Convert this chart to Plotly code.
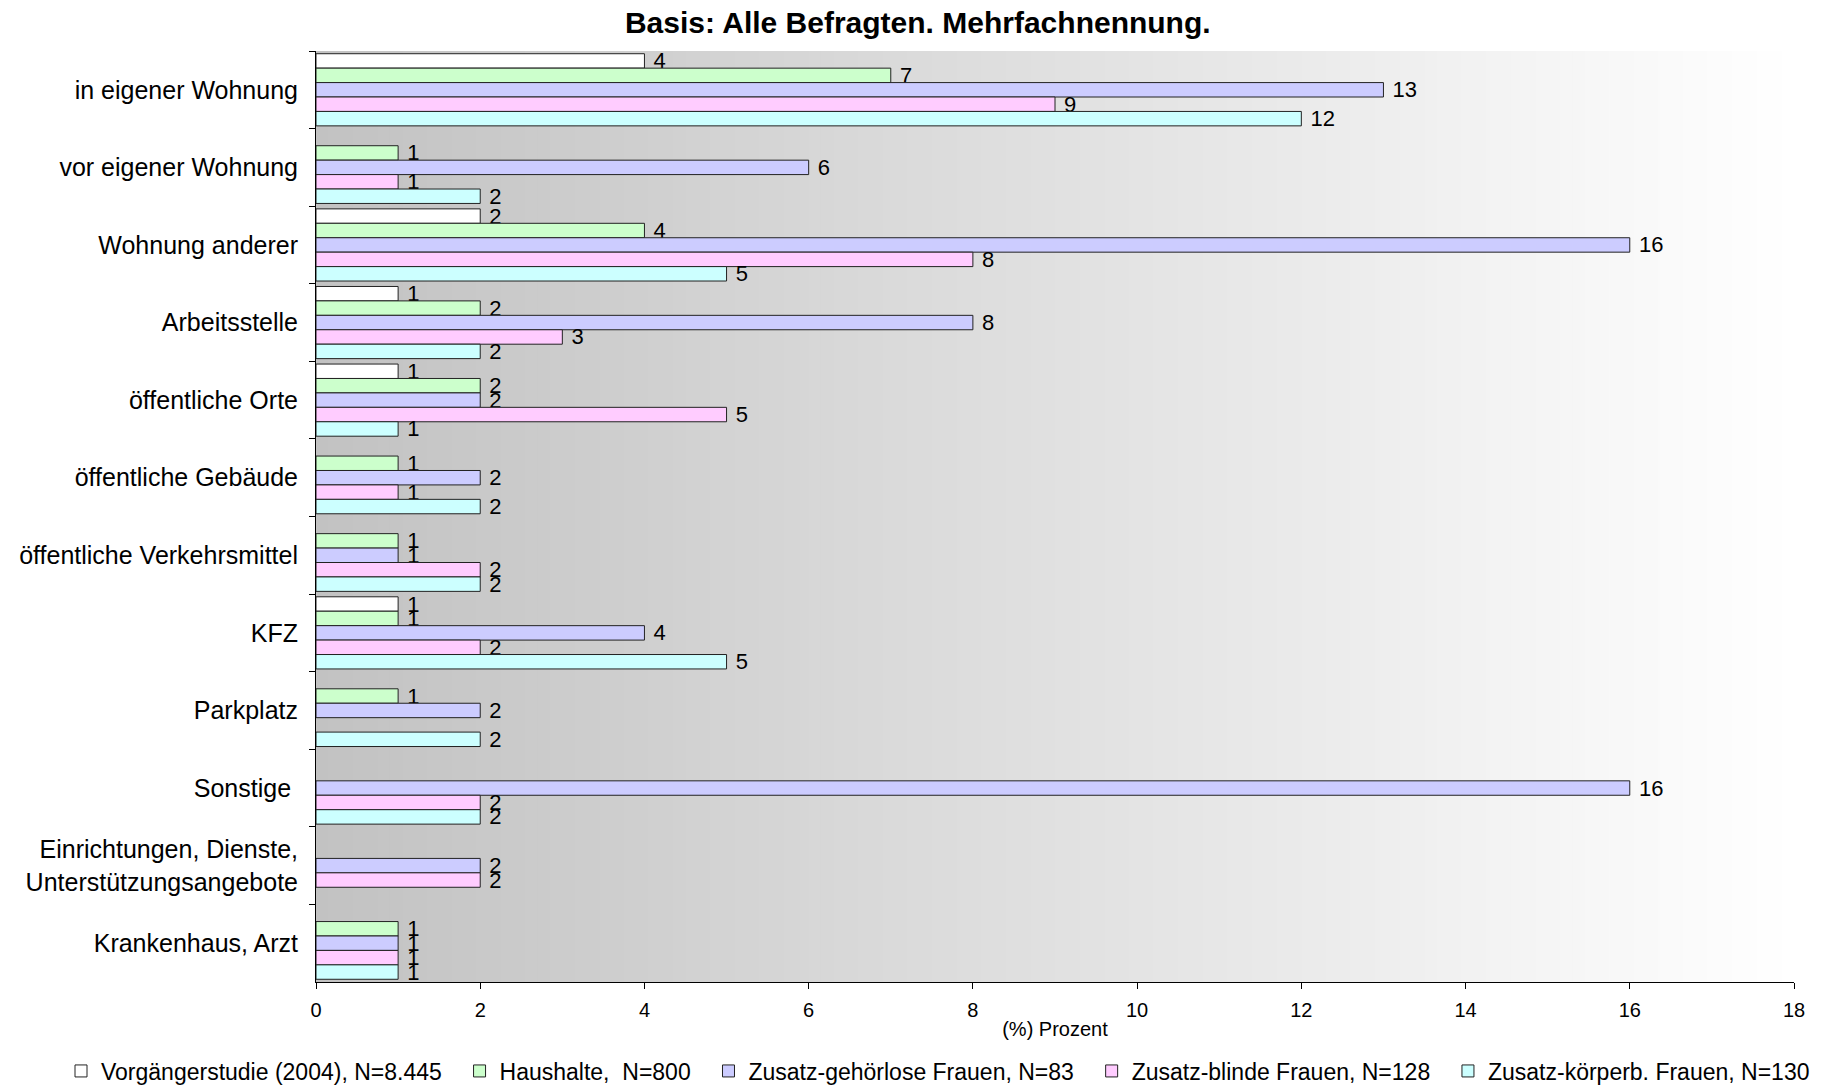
import plotly.graph_objects as go

# Orte der Vorfälle (Prozent), Mehrfachnennung
categories = [
    "in eigener Wohnung",
    "vor eigener Wohnung",
    "Wohnung anderer",
    "Arbeitsstelle",
    "öffentliche Orte",
    "öffentliche Gebäude",
    "öffentliche Verkehrsmittel",
    "KFZ",
    "Parkplatz",
    "Sonstige\u00a0",
    "Einrichtungen, Dienste,<br>Unterstützungsangebote",
    "Krankenhaus, Arzt",
]

vorgaenger = [4, None, 2, 1, 1, None, None, 1, None, None, None, None]
haushalte = [7, 1, 4, 2, 2, 1, 1, 1, 1, None, None, 1]
gehoerlos = [13, 6, 16, 8, 2, 2, 1, 4, 2, 16, 2, 1]
blind = [9, 1, 8, 3, 5, 1, 2, 2, None, 2, 2, 1]
koerperb = [12, 2, 5, 2, 1, 2, 2, 5, 2, 2, None, 1]

series_names = [
    "Vorgängerstudie (2004), N=8.445",
    "Haushalte,  N=800",
    "Zusatz-gehörlose Frauen, N=83",
    "Zusatz-blinde Frauen, N=128",
    "Zusatz-körperb. Frauen, N=130",
]
series_values = [vorgaenger, haushalte, gehoerlos, blind, koerperb]
series_colors = ["#ffffff", "#ccffcc", "#ccccff", "#ffccff", "#ccffff"]

x_ticks = list(range(0, 19, 2))
FONT = "Liberation Sans, Arial, sans-serif"
NBSP = "\u00a0"

# plot area in pixels
W, H = 1821, 1087
L, R, T, B = 316, 27, 51, 105
PW, PH = W - L - R, H - T - B

fig = go.Figure()
for k, (name, vals, col) in enumerate(zip(series_names, series_values, series_colors)):
    pad = NBSP * 2 if k < len(series_names) - 1 else ""
    fig.add_trace(go.Bar(
        y=categories,
        x=vals,
        name=name + pad,
        orientation="h",
        marker=dict(color=col, line=dict(color="#222222", width=1)),
        texttemplate=NBSP + "%{x}",
        textposition="outside",
        constraintext="none",
        cliponaxis=False,
        textfont=dict(family=FONT, size=22, color="black"),
    ))

# horizontal grey-to-white gradient behind the bars
n_strips = 120
x_max = 18
for i in range(n_strips):
    x0 = x_max * i / n_strips
    x1 = x_max * (i + 1) / n_strips
    t = (i + 0.5) / n_strips
    g = round(194 + (255 - 194) * t)
    fig.add_shape(
        type="rect", xref="x", yref="paper",
        x0=x0, x1=x1 + 0.01, y0=0, y1=1,
        fillcolor=f"rgb({g},{g},{g})", line=dict(width=0), layer="below",
    )

fig.update_layout(
    width=W,
    height=H,
    margin=dict(l=L, r=R, t=T, b=B, autoexpand=False),
    paper_bgcolor="white",
    plot_bgcolor="white",
    barmode="group",
    bargap=0.07,
    bargroupgap=0,
    font=dict(family=FONT, color="black"),
    title=dict(
        text="<b>Basis: Alle Befragten. Mehrfachnennung.</b>",
        font=dict(family=FONT, size=30, color="black"),
        x=0.504, xref="container", xanchor="center",
        y=1 - 22 / H, yref="container", yanchor="middle",
    ),
    xaxis=dict(
        range=[0, 18],
        tickvals=x_ticks,
        ticktext=[str(v) for v in x_ticks],
        ticks="outside", ticklen=6, tickcolor="black",
        showline=True, linecolor="black", linewidth=1,
        showgrid=False, zeroline=False,
        tickfont=dict(family=FONT, size=20, color="black"),
        ticklabelstandoff=4,
        title=dict(text="(%) Prozent", font=dict(family=FONT, size=20, color="black"), standoff=1),
    ),
    yaxis=dict(
        autorange="reversed",
        type="category",
        tickson="boundaries",
        ticks="outside", ticklen=6, tickcolor="black",
        showline=True, linecolor="black", linewidth=1,
        showgrid=False, zeroline=False,
        tickfont=dict(family=FONT, size=25, color="black"),
        ticklabelstandoff=12,
    ),
    legend=dict(
        orientation="h",
        x=(61 - L) / PW, xanchor="left",
        y=(H - B - 1071) / PH, yanchor="middle",
        font=dict(family=FONT, size=23, color="black"),
        itemwidth=30,
        traceorder="normal",
        bgcolor="rgba(0,0,0,0)",
    ),
    showlegend=True,
)

fig.write_html("out.html")
